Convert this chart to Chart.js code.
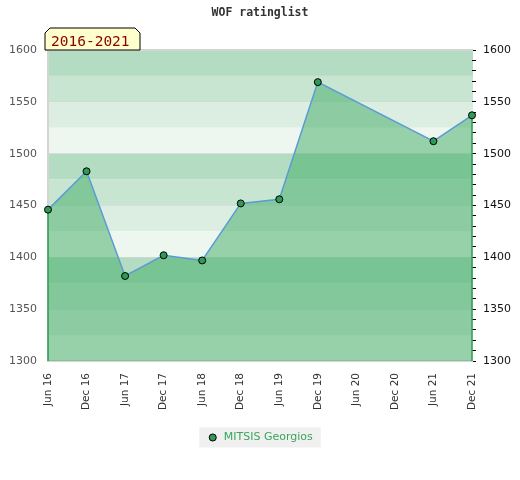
<!DOCTYPE html>
<html>
<head>
<meta charset="utf-8">
<script src="https://cdn.jsdelivr.net/npm/chart.js@4.4.1/dist/chart.umd.min.js"></script>
<style>
html,body{margin:0;padding:0;background:#fff;}
#wrap{width:520px;height:480px;position:relative;}
</style>
</head>
<body>
<div id="wrap"><canvas id="c" width="520" height="480"></canvas></div>
<script>
const chartTitle = 'WOF ratinglist';
const periodLabel = '2016-2021';
const seriesName = 'MITSIS Georgios';
const categories = ['Jun 16','Dec 16','Jun 17','Dec 17','Jun 18','Dec 18','Jun 19','Dec 19','Jun 20','Dec 20','Jun 21','Dec 21'];
const ratings = [1446, 1483, 1382, 1402, 1397, 1452, 1456, 1569, null, null, 1512, 1537];
const yMin = 1300;
const yMax = 1600;
const yMajorStep = 50;
const yMinorStep = 10;
const bandStep = 25;

const bandColors = ['#b3dcc2', '#c8e5d2', '#dcede2', '#eef6f0'];

const decoPlugin = {
  id: 'deco',
  beforeDraw(chart) {
    const ctx = chart.ctx, ca = chart.chartArea, ys = chart.scales.y;
    ctx.save();
    let i = 0;
    for (let v = yMax; v > yMin; v -= bandStep, i++) {
      const t = ys.getPixelForValue(v), b = ys.getPixelForValue(v - bandStep);
      ctx.fillStyle = bandColors[i % bandColors.length];
      ctx.fillRect(ca.left - 1, t, ca.right - ca.left + 2, b - t);
    }
    const lg = chart.legend;
    if (lg && lg.legendHitBoxes && lg.legendHitBoxes.length) {
      const hb = lg.legendHitBoxes[0];
      const cy = hb.top + hb.height / 2;
      ctx.fillStyle = '#f0f0f0';
      ctx.fillRect(hb.left - 8, cy - 10, hb.width + 16, 20);
    }
    ctx.restore();
  },
  beforeDatasetDraw(chart, args) {
    const ctx = chart.ctx, ca = chart.chartArea;
    const pts = args.meta.data.filter((p, k) => ratings[k] !== null);
    if (!pts.length) return;
    ctx.save();
    ctx.strokeStyle = '#2f9e52';
    ctx.lineWidth = 1.5;
    [pts[0], pts[pts.length - 1]].forEach(p => {
      ctx.beginPath();
      ctx.moveTo(p.x, p.y);
      ctx.lineTo(p.x, ca.bottom);
      ctx.stroke();
    });
    ctx.restore();
  },
  afterDraw(chart) {
    const ctx = chart.ctx, ca = chart.chartArea;
    ctx.save();
    ctx.strokeStyle = '#d4d4d4';
    ctx.lineWidth = 2;
    ctx.beginPath();
    ctx.moveTo(ca.left - 3, ca.top);
    ctx.lineTo(ca.right + 1, ca.top);
    ctx.stroke();
    ctx.fillStyle = '#333';
    ctx.font = 'bold 11.5px "DejaVu Sans Mono"';
    ctx.textAlign = 'center';
    ctx.textBaseline = 'middle';
    ctx.fillText(chartTitle, 260, 13);
    const x0 = ca.left - 3, x1 = ca.left + 92, y0 = 28, y1 = ca.top, c = 5;
    ctx.beginPath();
    ctx.moveTo(x0, y1);
    ctx.lineTo(x0, y0 + c);
    ctx.lineTo(x0 + c, y0);
    ctx.lineTo(x1 - c, y0);
    ctx.lineTo(x1, y0 + c);
    ctx.lineTo(x1, y1);
    ctx.closePath();
    ctx.fillStyle = '#ffffcc';
    ctx.fill();
    ctx.lineWidth = 1;
    ctx.strokeStyle = '#000';
    ctx.stroke();
    ctx.fillStyle = '#8b0000';
    ctx.font = '14.5px "DejaVu Sans Mono"';
    ctx.textAlign = 'left';
    ctx.textBaseline = 'alphabetic';
    ctx.fillText(periodLabel, x0 + 6, 46);
    ctx.restore();
  }
};

new Chart(document.getElementById('c'), {
  type: 'line',
  data: {
    labels: categories,
    datasets: [{
      label: seriesName,
      data: ratings,
      spanGaps: true,
      fill: 'start',
      backgroundColor: 'rgba(62,172,100,0.5)',
      borderColor: '#5b9bd5',
      borderWidth: 1.5,
      tension: 0,
      pointRadius: 3.5,
      pointBackgroundColor: '#2f9a55',
      pointBorderColor: '#000',
      pointBorderWidth: 1,
      yAxisID: 'y'
    }]
  },
  options: {
    responsive: false,
    animation: false,
    devicePixelRatio: 1,
    layout: { padding: { top: 50, bottom: 27, left: 0, right: 0 } },
    plugins: {
      title: { display: false },
      tooltip: { enabled: false },
      legend: {
        display: true,
        position: 'bottom',
        labels: {
          usePointStyle: true,
          pointStyle: 'circle',
          boxWidth: 11,
          boxHeight: 5,
          padding: 10,
          color: '#3aa65c',
          font: { family: 'DejaVu Sans', size: 11 }
        }
      }
    },
    scales: {
      x: {
        type: 'category',
        offset: false,
        grid: { display: false, drawTicks: false },
        border: { display: true, color: '#d4d4d4', width: 2 },
        ticks: {
          autoSkip: false,
          minRotation: 90,
          maxRotation: 90,
          padding: 12,
          color: '#333',
          font: { family: 'DejaVu Sans', size: 10.5 }
        },
        afterFit(s) { s.height = 61; }
      },
      y: {
        position: 'left',
        min: yMin,
        max: yMax,
        grid: { color: 'rgba(205,205,205,0.45)', drawTicks: false, tickLength: 0 },
        border: { display: true, color: '#d4d4d4', width: 2 },
        ticks: {
          stepSize: yMajorStep,
          padding: 11,
          color: '#555',
          font: { family: 'DejaVu Sans', size: 11 },
          callback: v => String(v)
        },
        afterFit(s) { s.width = 48; }
      },
      y2: {
        position: 'right',
        min: yMin,
        max: yMax,
        grid: { drawOnChartArea: false, drawTicks: true, tickLength: 4, color: '#000', lineWidth: 1 },
        border: { display: false },
        ticks: {
          stepSize: yMinorStep,
          autoSkip: false,
          padding: 7,
          color: '#111',
          font: { family: 'DejaVu Sans', size: 11 },
          callback: v => (v % yMajorStep === 0 ? String(v) : '')
        },
        afterFit(s) { s.width = 48; }
      }
    }
  },
  plugins: [decoPlugin]
});
</script>
</body>
</html>
